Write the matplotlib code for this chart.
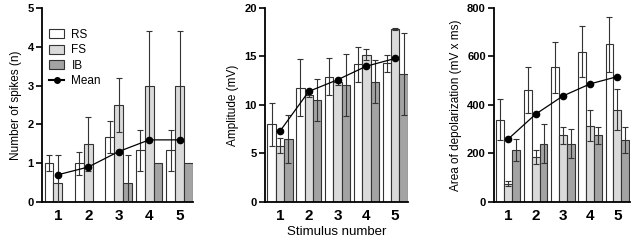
import numpy as np
import matplotlib
matplotlib.use("Agg")
import matplotlib.pyplot as plt
from matplotlib.lines import Line2D
from matplotlib.patches import Patch

plt.rcParams["font.family"] = ["Liberation Sans", "DejaVu Sans"]

stimulus = [1, 2, 3, 4, 5]
groups = ["RS", "FS", "IB"]

# Number of spikes
spikes_rs = [1.0, 1.0, 1.67, 1.33, 1.33]
spikes_rs_err = [0.2, 0.3, 0.42, 0.52, 0.52]
spikes_fs = [0.5, 1.5, 2.5, 3.0, 3.0]
spikes_fs_err = [0.7, 0.7, 0.7, 1.4, 1.4]
spikes_ib = [0.0, 0.0, 0.5, 1.0, 1.0]
spikes_ib_err = [0.0, 0.0, 0.7, 0.0, 0.0]
spikes_mean = [0.7, 0.9, 1.3, 1.6, 1.6]

# Amplitude (mV)
amp_rs = [8.0, 11.8, 12.9, 14.2, 14.3]
amp_rs_err = [2.2, 2.9, 1.9, 1.8, 0.9]
amp_fs = [5.8, 11.0, 12.4, 15.2, 17.8]
amp_fs_err = [0.8, 0.2, 0.3, 0.6, 0.1]
amp_ib = [6.5, 10.5, 12.1, 12.4, 13.2]
amp_ib_err = [2.5, 2.2, 3.2, 2.2, 4.2]
amp_mean = [7.3, 11.4, 12.6, 14.0, 14.8]

# Area of depolarization (mV x ms)
area_rs = [340, 460, 555, 620, 650]
area_rs_err = [85, 95, 105, 105, 115]
area_fs = [75, 185, 275, 315, 380]
area_fs_err = [10, 30, 35, 65, 85]
area_ib = [215, 240, 240, 275, 255]
area_ib_err = [45, 80, 60, 35, 55]
area_mean = [260, 362, 437, 487, 517]

colors = ["white", "#dadada", "#a3a3a3"]
edge = "#333333"

fig = plt.figure(figsize=(6.36, 2.43), dpi=100)

panels = [
    ([0.066, 0.169, 0.238, 0.798], (spikes_rs, spikes_fs, spikes_ib),
     (spikes_rs_err, spikes_fs_err, spikes_ib_err), spikes_mean,
     5, [0, 1, 2, 3, 4, 5], "Number of spikes (n)"),
    ([0.4167, 0.169, 0.225, 0.798], (amp_rs, amp_fs, amp_ib),
     (amp_rs_err, amp_fs_err, amp_ib_err), amp_mean,
     20, [0, 5, 10, 15, 20], "Amplitude (mV)"),
    ([0.777, 0.169, 0.213, 0.798], (area_rs, area_fs, area_ib),
     (area_rs_err, area_fs_err, area_ib_err), area_mean,
     800, [0, 200, 400, 600, 800], "Area of depolarization (mV x ms)"),
]

x = np.array(stimulus, dtype=float)
w = 0.29
for i, (rect, vals, errs, mean, ymax, yt, ylab) in enumerate(panels):
    ax = fig.add_axes(rect)
    for k in range(3):
        xs = x + (k - 1) * w
        ax.bar(xs, vals[k], width=w, color=colors[k], edgecolor=edge,
               linewidth=0.8, zorder=2)
        e = np.array(errs[k], dtype=float)
        m = e > 0
        ax.errorbar(xs[m], np.array(vals[k])[m], yerr=e[m], fmt="none",
                    ecolor=edge, elinewidth=0.8, capsize=2.5,
                    capthick=0.8, zorder=3)
    ax.plot(x, mean, color="black", lw=0.9, marker="o", ms=4.5, zorder=4)
    ax.set_ylim(0, ymax)
    ax.set_xlim(0.48, 5.45)
    ax.set_yticks(yt)
    ax.set_xticks(stimulus)
    ax.tick_params(axis="y", direction="out", length=4, width=1.2,
                   labelsize=8, pad=2)
    ax.tick_params(axis="x", length=0, labelsize=11, pad=5)
    for lab in ax.get_yticklabels() + ax.get_xticklabels():
        lab.set_fontweight("bold")
    for s in ["top", "right"]:
        ax.spines[s].set_visible(False)
    ax.spines["left"].set_linewidth(1.3)
    ax.spines["bottom"].set_linewidth(1.3)
    ax.set_ylabel(ylab, fontsize=8.5, labelpad=4)
    if i == 1:
        ax.set_xlabel("Stimulus number", fontsize=9.5, labelpad=2)
    if i == 0:
        handles = [Patch(facecolor=colors[k], edgecolor=edge, linewidth=0.8)
                   for k in range(3)]
        handles.append(Line2D([], [], color="black", marker="o", ms=4))
        ax.legend(handles, groups + ["Mean"], loc="upper left",
                  bbox_to_anchor=(0.0, 0.93), frameon=False, fontsize=8.5,
                  handlelength=1.3, handleheight=0.8, labelspacing=0.3,
                  borderaxespad=0.2, handletextpad=0.6)

fig.savefig("out.png", dpi=100)
